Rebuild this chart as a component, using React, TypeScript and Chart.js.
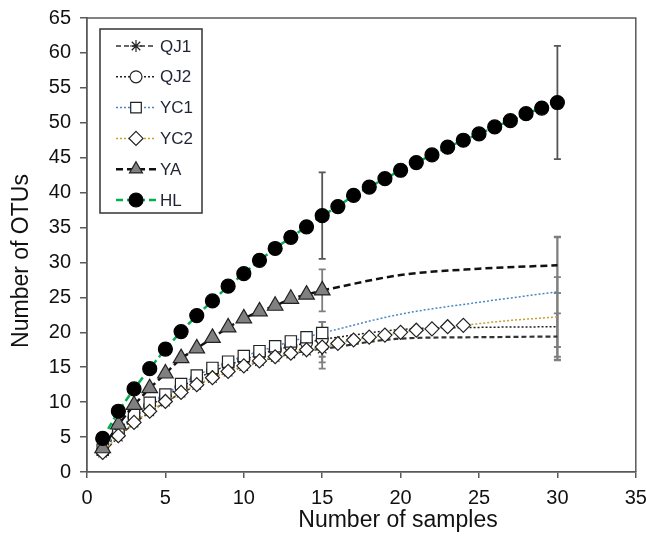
import React, { useEffect, useRef } from 'react';
import { Chart, registerables } from 'chart.js';

Chart.register(...registerables);

const FONT = '"Liberation Sans", Arial, sans-serif';

// ---------- data ----------
const seriesNames = ['QJ1', 'QJ2', 'YC1', 'YC2', 'YA', 'HL'];

const xMarked = [1, 2, 3, 4, 5, 6, 7, 8, 9, 10, 11, 12, 13, 14, 15];
const xYC2 = [1, 2, 3, 4, 5, 6, 7, 8, 9, 10, 11, 12, 13, 14, 15, 16, 17, 18, 19, 20, 21, 22, 23, 24];
const xHL = [1, 2, 3, 4, 5, 6, 7, 8, 9, 10, 11, 12, 13, 14, 15, 16, 17, 18, 19, 20, 21, 22, 23, 24, 25, 26, 27, 28, 29, 30];

const qj1 = [2.7, 5.0, 7.0, 8.6, 10.0, 11.3, 12.4, 13.4, 14.3, 15.1, 15.8, 16.4, 16.9, 17.3, 17.6];
const qj2 = [3.0, 5.7, 7.8, 9.5, 10.8, 12.2, 13.4, 14.4, 15.3, 16.1, 16.8, 17.5, 18.0, 18.5, 19.0];
const yc1 = [3.2, 6.0, 8.2, 9.9, 11.1, 12.6, 13.8, 14.9, 15.8, 16.6, 17.3, 18.0, 18.7, 19.3, 19.9];
const yc2 = [2.8, 5.2, 7.1, 8.7, 10.1, 11.4, 12.5, 13.5, 14.4, 15.2, 15.9, 16.5, 17.0, 17.5, 17.9, 18.4, 18.9, 19.3, 19.6, 20.0, 20.3, 20.5, 20.8, 21.0];
const ya = [3.4, 6.8, 9.6, 12.0, 14.1, 16.3, 17.7, 19.2, 20.7, 22.0, 23.0, 23.8, 24.8, 25.4, 26.0];
const hl = [4.8, 8.7, 11.9, 14.8, 17.6, 20.1, 22.4, 24.5, 26.6, 28.4, 30.3, 32.0, 33.6, 35.1, 36.7, 38.0, 39.6, 40.8, 42.0, 43.2, 44.3, 45.4, 46.5, 47.5, 48.4, 49.4, 50.3, 51.3, 52.1, 52.9];

// extrapolated curves (no markers)
const extX = [15, 20, 25, 30];
const qj1Ext = [17.6, 19.1, 19.3, 19.4];
const qj2Ext = [19.0, 20.4, 20.7, 20.8];
const yc1Ext = [19.9, 22.6, 24.3, 25.8];
const yaExt = [26.0, 28.2, 29.1, 29.6];
const yc2ExtX = [24, 27, 30];
const yc2Ext = [21.0, 21.7, 22.2];

// error bars at 15 and 30 samples
const errX = [15, 30];
const qj1Mean = [17.6, 19.4];
const qj1Sd = [2.8, 3.3];
const qj2Mean = [19.0, 20.8];
const qj2Sd = [2.5, 4.8];
const yc1Mean = [19.9, 25.8];
const yc1Sd = [1.6, 7.9];
const yc2Mean = [17.9, 22.2];
const yc2Sd = [2.2, 5.7];
const yaMean = [26.0, 29.6];
const yaSd = [3.0, 4.0];
const hlMean = [36.7, 52.9];
const hlSd = [6.2, 8.1];

const xTickMax = 35;
const yTickMax = 65;
const tickStep = 5;

const xTitle = 'Number of samples';
const yTitle = 'Number of OTUs';

// ---------- styles ----------
const styles: any[] = [
  { color: '#333333', dash: [5, 3], width: 1.5, point: 'star', r: 6, fill: '#ffffff', stroke: '#222222' },
  { color: '#222222', dash: [2, 2], width: 1.5, point: 'circle', r: 6, fill: '#ffffff', stroke: '#222222' },
  { color: '#4a86c5', dash: [2, 2], width: 1.5, point: 'rect', r: 8, fill: '#ffffff', stroke: '#222222' },
  { color: '#c9a030', dash: [2, 2], width: 1.5, point: 'rectRot', r: 7, fill: '#ffffff', stroke: '#222222' },
  { color: '#111111', dash: [7, 4], width: 2.5, point: 'triangle', r: 9, fill: '#808080', stroke: '#222222' },
  { color: '#00b050', dash: [7, 4], width: 2.5, point: 'circle', r: 7, fill: '#000000', stroke: '#000000' },
];

const toPts = (xs: number[], ys: number[]) => xs.map((x, i) => ({ x, y: ys[i] }));

function drawMarker(ctx: CanvasRenderingContext2D, s: any, x: number, y: number) {
  const r = s.r;
  ctx.save();
  ctx.setLineDash([]);
  ctx.lineWidth = 1.2;
  ctx.strokeStyle = s.stroke;
  ctx.fillStyle = s.fill;
  ctx.beginPath();
  if (s.point === 'circle') {
    ctx.arc(x, y, r, 0, Math.PI * 2);
    ctx.fill();
    ctx.stroke();
  } else if (s.point === 'rect') {
    const h = r * Math.SQRT1_2;
    ctx.rect(x - h, y - h, 2 * h, 2 * h);
    ctx.fill();
    ctx.stroke();
  } else if (s.point === 'rectRot') {
    ctx.moveTo(x, y - r);
    ctx.lineTo(x + r, y);
    ctx.lineTo(x, y + r);
    ctx.lineTo(x - r, y);
    ctx.closePath();
    ctx.fill();
    ctx.stroke();
  } else if (s.point === 'triangle') {
    let a = 0;
    ctx.moveTo(x + Math.sin(a) * r, y - Math.cos(a) * r);
    a += (2 * Math.PI) / 3;
    ctx.lineTo(x + Math.sin(a) * r, y - Math.cos(a) * r);
    a += (2 * Math.PI) / 3;
    ctx.lineTo(x + Math.sin(a) * r, y - Math.cos(a) * r);
    ctx.closePath();
    ctx.fill();
    ctx.stroke();
  } else if (s.point === 'star') {
    for (let k = 0; k < 4; k++) {
      const a = (k * Math.PI) / 4;
      ctx.moveTo(x - Math.cos(a) * r, y - Math.sin(a) * r);
      ctx.lineTo(x + Math.cos(a) * r, y + Math.sin(a) * r);
    }
    ctx.stroke();
  }
  ctx.restore();
}

const framePlugin = {
  id: 'frame',
  beforeDatasetsDraw(chart: any) {
    const { ctx, chartArea: a } = chart;
    ctx.save();
    ctx.strokeStyle = '#595959';
    ctx.lineWidth = 1.5;
    ctx.beginPath();
    ctx.moveTo(a.left, a.top);
    ctx.lineTo(a.right, a.top);
    ctx.lineTo(a.right, a.bottom);
    ctx.stroke();
    ctx.restore();
  },
};

const errorSets = [
  { mean: qj1Mean, sd: qj1Sd, color: '#7f7f7f' },
  { mean: qj2Mean, sd: qj2Sd, color: '#7f7f7f' },
  { mean: yc1Mean, sd: yc1Sd, color: '#7f7f7f' },
  { mean: yc2Mean, sd: yc2Sd, color: '#7f7f7f' },
  { mean: yaMean, sd: yaSd, color: '#7f7f7f' },
  { mean: hlMean, sd: hlSd, color: '#555555' },
];

const errorBarPlugin = {
  id: 'errbars',
  beforeDatasetsDraw(chart: any) {
    const { ctx } = chart;
    const xs = chart.scales.x;
    const ys = chart.scales.y;
    ctx.save();
    ctx.setLineDash([]);
    errorSets.forEach((s) => {
      ctx.strokeStyle = s.color;
      ctx.lineWidth = 1.8;
      errX.forEach((xv, i) => {
        const px = xs.getPixelForValue(xv);
        const top = ys.getPixelForValue(s.mean[i] + s.sd[i]);
        const bot = ys.getPixelForValue(s.mean[i] - s.sd[i]);
        ctx.beginPath();
        ctx.moveTo(px, top);
        ctx.lineTo(px, bot);
        ctx.moveTo(px - 3.5, top);
        ctx.lineTo(px + 3.5, top);
        ctx.moveTo(px - 3.5, bot);
        ctx.lineTo(px + 3.5, bot);
        ctx.stroke();
      });
    });
    ctx.restore();
  },
};

const legendPlugin = {
  id: 'customLegend',
  afterDraw(chart: any) {
    const { ctx } = chart;
    const bx = 100, by = 29, bw = 102, bh = 184;
    ctx.save();
    ctx.fillStyle = '#ffffff';
    ctx.fillRect(bx, by, bw, bh);
    ctx.strokeStyle = '#333333';
    ctx.lineWidth = 1.5;
    ctx.strokeRect(bx, by, bw, bh);
    seriesNames.forEach((name, i) => {
      const s = styles[i];
      const cy = 46 + i * 30.8;
      ctx.save();
      ctx.strokeStyle = s.color;
      ctx.lineWidth = s.width;
      ctx.setLineDash(s.dash);
      ctx.beginPath();
      ctx.moveTo(116, cy);
      ctx.lineTo(156, cy);
      ctx.stroke();
      ctx.restore();
      drawMarker(ctx, { ...s, r: Math.min(s.r, 7.5) }, 136, cy);
      ctx.fillStyle = '#1f2335';
      ctx.font = '17px ' + FONT;
      ctx.textAlign = 'left';
      ctx.textBaseline = 'middle';
      ctx.fillText(name, 160, cy + 1);
    });
    // axis titles
    ctx.fillStyle = '#111111';
    ctx.font = '23px ' + FONT;
    ctx.textAlign = 'center';
    ctx.textBaseline = 'middle';
    ctx.fillText(xTitle, 398, 521);
    ctx.translate(22, 261);
    ctx.rotate(-Math.PI / 2);
    ctx.fillText(yTitle, 0, 0);
    ctx.restore();
  },
};

export default function App() {
  const ref = useRef<HTMLCanvasElement | null>(null);

  useEffect(() => {
    if (!ref.current) return;
    const main = [
      toPts(xMarked, qj1),
      toPts(xMarked, qj2),
      toPts(xMarked, yc1),
      toPts(xYC2, yc2),
      toPts(xMarked, ya),
      toPts(xHL, hl),
    ];
    const ext = [
      toPts(extX, qj1Ext),
      toPts(extX, qj2Ext),
      toPts(extX, yc1Ext),
      toPts(yc2ExtX, yc2Ext),
      toPts(extX, yaExt),
    ];
    const drawOrder = [5, 4, 3, 2, 1, 0];
    const datasets: any[] = [];
    main.forEach((pts, i) => {
      const s = styles[i];
      datasets.push({
        label: seriesNames[i],
        data: pts,
        borderColor: s.color,
        borderWidth: s.width,
        borderDash: s.dash,
        pointStyle: s.point,
        pointRadius: s.r,
        pointBackgroundColor: s.fill,
        pointBorderColor: s.stroke,
        pointBorderWidth: 1.2,
        fill: false,
        tension: 0,
        order: drawOrder[i],
      });
    });
    ext.forEach((pts, i) => {
      const s = styles[i];
      datasets.push({
        label: seriesNames[i] + ' ext',
        data: pts,
        borderColor: s.color,
        borderWidth: i === 0 ? 2.2 : s.width,
        borderDash: s.dash,
        pointRadius: 0,
        fill: false,
        cubicInterpolationMode: 'monotone',
        order: 20 + i,
      });
    });

    const chart = new Chart(ref.current, {
      type: 'line',
      data: { datasets },
      options: {
        animation: false,
        responsive: false,
        devicePixelRatio: 1,
        layout: { padding: { top: 18, right: 3, left: 0, bottom: 0 } },
        plugins: {
          legend: { display: false },
          tooltip: { enabled: false },
          title: { display: false },
        },
        scales: {
          x: {
            type: 'linear',
            min: 0,
            max: xTickMax,
            ticks: {
              stepSize: tickStep,
              color: '#111111',
              font: { family: FONT, size: 20 },
              padding: 8,
              maxRotation: 0,
            },
            grid: {
              drawOnChartArea: false,
              drawTicks: true,
              tickLength: 6,
              color: '#595959',
              lineWidth: 1.5,
            },
            border: { display: true, color: '#595959', width: 1.8 },
            afterFit: (scale: any) => {
              scale.height = 71;
              scale.paddingLeft = 0;
              scale.paddingRight = 0;
            },
          },
          y: {
            type: 'linear',
            min: 0,
            max: yTickMax,
            ticks: {
              stepSize: tickStep,
              color: '#111111',
              font: { family: FONT, size: 20 },
              padding: 9,
            },
            grid: {
              drawOnChartArea: false,
              drawTicks: true,
              tickLength: 7,
              color: '#595959',
              lineWidth: 1.5,
            },
            border: { display: true, color: '#595959', width: 1.8 },
            afterFit: (scale: any) => {
              scale.width = 87;
              scale.paddingTop = 0;
              scale.paddingBottom = 0;
            },
          },
        },
      },
      plugins: [framePlugin, errorBarPlugin, legendPlugin],
    });
    return () => chart.destroy();
  }, []);

  return (
    <div style={{ position: 'absolute', left: 0, top: 0, width: 646, height: 543, background: '#ffffff' }}>
      <canvas ref={ref} width={646} height={543} style={{ display: 'block' }} />
    </div>
  );
}
